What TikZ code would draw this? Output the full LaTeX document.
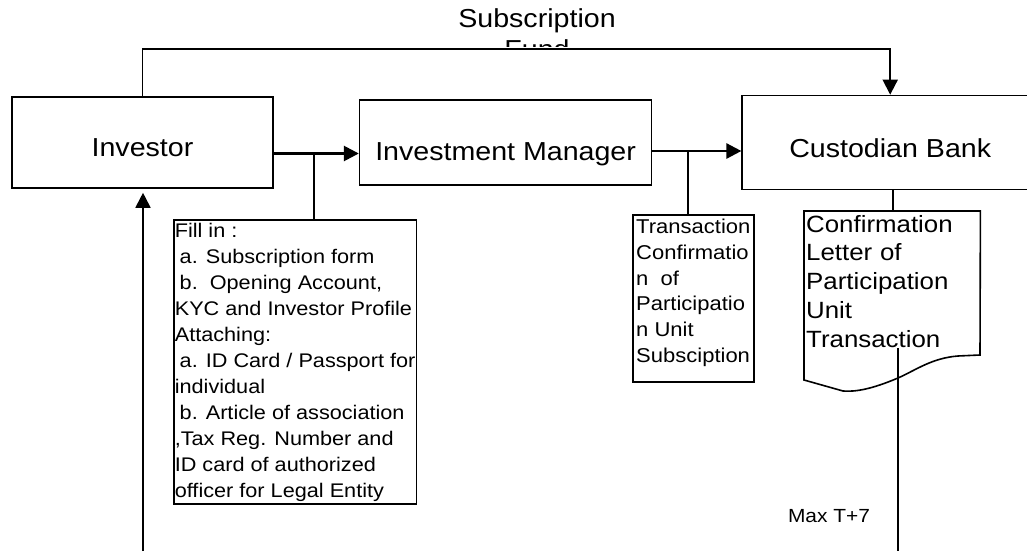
\documentclass[tikz,border=0pt]{standalone}
\usepackage{fontspec}
\setmainfont{Liberation Sans}[FakeStretch=1.1]
\usetikzlibrary{arrows.meta,positioning}

\tikzset{
  party/.style={draw,line width=1.6pt,text height=#1,text depth=0pt,font=\fontsize{26}{30}\selectfont},
  party/.default=27.6pt,
  memo/.style={draw,line width=1.6pt,anchor=north west,align=left,inner xsep=1pt,inner ysep=3pt,font=\fontsize{19.7}{26}\selectfont},
  feed/.style={line width=1.6pt},
  pass/.style={line width=2.6pt,-{Triangle[length=15pt,width=15pt]}},
  drop/.style={line width=1.8pt,-{Triangle[length=15pt,width=15pt]}}
}

\begin{document}
\begin{tikzpicture}[x=1pt,y=-1pt]  % one unit = one pixel of the page, y runs down
    \useasboundingbox (0,0) rectangle (1027,551);

    % The three parties
    \node[party,minimum width=261pt,minimum height=91pt] (inv) at (142.5,142.5) {Investor};
    \node[party=35.6pt,minimum width=292pt,minimum height=85pt,right=85pt of inv] (im) {Investment Manager};
    \node[party=30pt,minimum width=296pt,minimum height=94pt,right=89pt of im] (cb) {Custodian Bank};

    % Subscription fund label, its second line cut by the text frame
    \node[font=\fontsize{26}{30}\selectfont,anchor=base] (subs) at (537,28) {Subscription};
    \begin{scope}
        \clip (400,0) rectangle (680,47);
        \node[font=\fontsize{26}{30}\selectfont,anchor=base] (fund) at (537,58.6) {Fund};
    \end{scope}

    % Main flow
    \draw[pass] ([yshift=-11pt]inv.east) -- ([yshift=-11pt]inv.east -| im.west);
    \draw[pass] ([yshift=-8.5pt]im.east) -- ([yshift=-8.5pt]im.east -| cb.west);
    \coordinate (top) at (0,49);
    \draw[drop] (inv.north) |- (cb.north |- top) -- (cb.north);

    % Documents hanging off the flow
    \node[memo] (form) at (173,219) {Fill in :\\
        \hspace*{0.25em}a. Subscription form\\
        \hspace*{0.25em}b.\ \ Opening Account,\\
        KYC and Investor Profile\\
        Attaching:\\
        \hspace*{0.25em}a. ID Card / Passport for\\
        individual\\
        \hspace*{0.25em}b. Article of association\\
        ,Tax Reg. Number and\\
        ID card of authorized\\
        officer for Legal Entity};
    \node[memo,minimum width=121pt,text depth=15.5pt,inner ysep=4.5pt,font=\fontsize{20}{25.7}\selectfont] (txn) at (632,214)
        {Transaction\\Confirmatio\\n\ \ of\\Participatio\\n Unit\\Subsciption};
    \node[anchor=north west,align=left,text width=172pt,inner xsep=2pt,inner ysep=4pt,
        font=\fontsize{23.5}{28.7}\selectfont] (conf) at (804,211)
        {Confirmation\\Letter of\\Participation\\Unit\\Transaction};
    % document outline with the wavy foot
    \draw[feed] (conf.north west) -- (conf.north east) -- (980,355) -- (958,356)
        .. controls (932,358) and (916,370) .. (898,378)
        .. controls (872,389) and (856,392) .. (843,391) -- (804,380) -- cycle;

    \coordinate (j1) at (314,153.5);
    \coordinate (j2) at (688,151);
    \coordinate (j3) at (893,0);
    \draw[feed] (j1) -- (j1 |- form.north);
    \draw[feed] (j2) -- (j2 |- txn.north);
    \draw[feed] (j3 |- cb.south) -- (j3 |- conf.north);

    % Return path to the investor
    \coordinate (c4) at (898,348);
    \coordinate (c4b) at (898,551);
    \draw[feed] (c4) -- (c4b);
    \node[font=\fontsize{19}{23}\selectfont] (maxt) at (829,516) {Max T+7};
    \coordinate (inbot) at (143,551);
    \draw[drop,shorten >=4pt] (inbot) -- (inbot |- inv.south);
\end{tikzpicture}
\end{document}
